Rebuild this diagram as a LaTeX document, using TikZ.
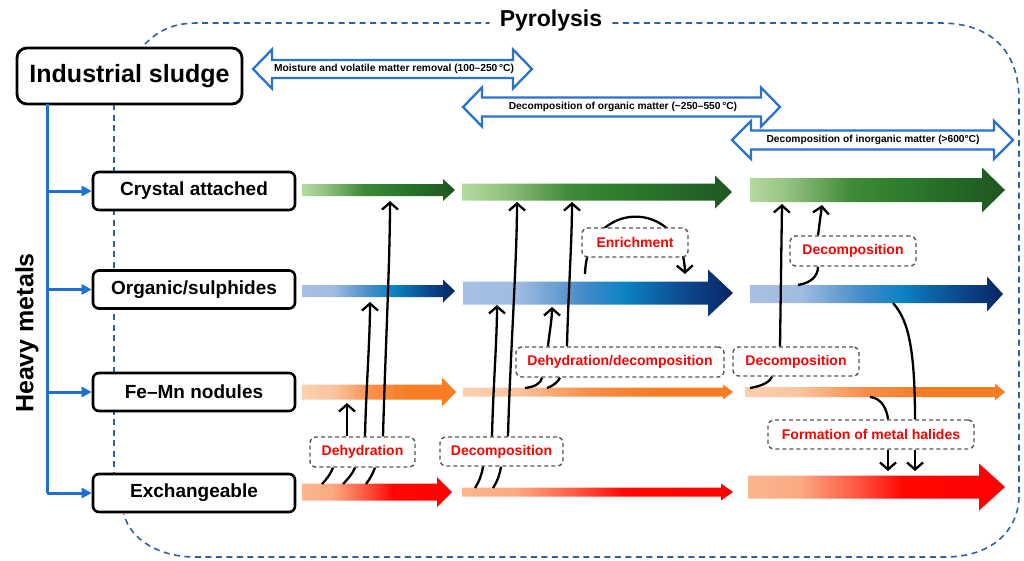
\documentclass[tikz,border=0pt]{standalone}
\usepackage{fontspec}
\setmainfont{Liberation Sans}
\usetikzlibrary{arrows.meta,calc}

\definecolor{pyroblue}{RGB}{48,96,164}
\definecolor{hmblue}{RGB}{30,112,210}
\definecolor{arrblue}{RGB}{40,115,205}
\definecolor{lblgray}{RGB}{85,85,85}
\definecolor{lblred}{RGB}{255,0,0}

\definecolor{gA}{RGB}{180,218,160}
\definecolor{gB}{RGB}{150,196,130}
\definecolor{gC}{RGB}{62,138,56}
\definecolor{gD}{RGB}{42,120,42}
\definecolor{gE}{RGB}{30,86,32}

\definecolor{bA}{RGB}{168,192,228}
\definecolor{bB}{RGB}{160,188,226}
\definecolor{bC}{RGB}{70,140,200}
\definecolor{bD}{RGB}{12,130,195}
\definecolor{bE}{RGB}{12,78,146}
\definecolor{bF}{RGB}{8,36,100}

\definecolor{oA}{RGB}{252,208,176}
\definecolor{oB}{RGB}{251,196,160}
\definecolor{oC}{RGB}{249,142,72}
\definecolor{oD}{RGB}{247,124,36}

\definecolor{rA}{RGB}{251,182,142}
\definecolor{rB}{RGB}{251,170,130}
\definecolor{rC}{RGB}{255,80,60}
\definecolor{rD}{RGB}{255,8,4}
\definecolor{rE}{RGB}{255,0,0}

\pgfdeclarehorizontalshading{gsh}{100bp}{color(0bp)=(gA); color(25bp)=(gA); color(32bp)=(gB); color(45bp)=(gC); color(57bp)=(gD); color(75bp)=(gE); color(100bp)=(gE)}
\pgfdeclarehorizontalshading{bsh}{100bp}{color(0bp)=(bA); color(25bp)=(bA); color(35bp)=(bB); color(47bp)=(bC); color(55bp)=(bD); color(65bp)=(bE); color(75bp)=(bF); color(100bp)=(bF)}
\pgfdeclarehorizontalshading{osh}{100bp}{color(0bp)=(oA); color(25bp)=(oA); color(35bp)=(oB); color(48bp)=(oC); color(60bp)=(oD); color(75bp)=(oD); color(100bp)=(oD)}
\pgfdeclarehorizontalshading{rsh}{100bp}{color(0bp)=(rA); color(25bp)=(rA); color(35bp)=(rB); color(47bp)=(rC); color(55bp)=(rD); color(75bp)=(rE); color(100bp)=(rE)}

% gradient arrow: x1, x2, yc, shaft half height, head half height, head length, shading
\newcommand\gradarrow[7]{%
  \shade[shading=#7] (#1,#3-#4) -- (#2-#6,#3-#4) -- (#2-#6,#3-#5) -- (#2,#3)
    -- (#2-#6,#3+#5) -- (#2-#6,#3+#4) -- (#1,#3+#4) -- cycle;}
% hollow double arrow: x1, x2, yc, shaft half, head half
\newcommand\dblarrow[5]{%
  \draw[harrow] (#1,#3) -- (#1+19,#3-#5) -- (#1+19,#3-#4) -- (#2-19,#3-#4)
    -- (#2-19,#3-#5) -- (#2,#3) -- (#2-19,#3+#5) -- (#2-19,#3+#4)
    -- (#1+19,#3+#4) -- (#1+19,#3+#5) -- cycle;}

\begin{document}
\begin{tikzpicture}[x=1pt,y=-1pt,
  catbox/.style={draw=black, line width=2.6pt, rounded corners=6pt, fill=white,
    minimum width=202pt, minimum height=38pt, inner sep=0pt,
    font=\fontsize{19}{22}\selectfont\bfseries},
  lbl/.style={draw=lblgray, dash pattern=on 4pt off 3pt, line width=1.4pt,
    rounded corners=6pt, fill=white, text=lblred, inner sep=0pt,
    font=\fontsize{14}{16}\selectfont\bfseries},
  harrow/.style={draw=arrblue, line width=2.3pt, fill=white, line join=miter},
  toplbl/.style={font=\fontsize{10.2}{12}\selectfont\bfseries, inner sep=0pt},
  pyro/.style={draw=pyroblue, line width=1.6pt, dash pattern=on 6pt off 4.5pt},
  bl/.style={draw=hmblue, line width=3pt},
  blarr/.style={bl, -{Triangle[length=10pt,width=10pt]}},
  plainln/.style={line width=2.3pt, black},
  conn/.style={line width=2.3pt, black, -{Straight Barb[length=7pt,width=16pt]}}
]
\useasboundingbox (0,0) rectangle (1024,560);
\fill[white] (0,0) rectangle (1024,560);

% ---------- Pyrolysis outline ----------
\node[font=\fontsize{23}{27}\selectfont\bfseries, inner sep=0pt] (pyr) at (551,21) {Pyrolysis};
\draw[pyro] (145,44) .. controls (160,29) and (175,23) .. (198,23) -- ([xshift=-10pt]pyr.west |- 0,23);
\draw[pyro] ([xshift=10pt]pyr.east |- 0,23) -- (940,23)
  .. controls (990,23) and (1019,50) .. (1019,100) -- (1019,495)
  .. controls (1019,532) and (990,557) .. (945,557) -- (195,557)
  .. controls (160,557) and (130,540) .. (124,514);
\draw[pyro] (114,104) -- (114,474);

% ---------- hollow double arrows ----------
\dblarrow{253}{532}{69}{9}{19.5}
\dblarrow{463}{780}{107}{9.5}{19.5}
\dblarrow{732}{1013}{140}{9.5}{19}
\node[toplbl] (t1) at (394,69) {Moisture and volatile matter removal (100–250\,°C)};
\node[toplbl] (t2) at (623,107) {Decomposition of organic matter (\textasciitilde250–550\,°C)};
\node[toplbl] (t3) at (873,140) {Decomposition of inorganic matter (>600°C)};

% ---------- left side ----------
\node[draw=black, line width=2.8pt, rounded corners=10pt, fill=white,
  minimum width=225pt, minimum height=56pt, inner sep=0pt,
  font=\fontsize{25}{30}\selectfont\bfseries] (sludge) at (129.5,76) {Industrial sludge};
\node[rotate=90, inner sep=0pt, font=\fontsize{25}{30}\selectfont\bfseries] (hm) at (27,333) {Heavy metals};

\node[catbox] (crys) at (194,191) {Crystal attached};
\node[catbox] (org)  at (194,289.5) {Organic/sulphides};
\node[catbox] (femn) at (194,392) {Fe–Mn nodules};
\node[catbox] (exch) at (194,493) {Exchangeable};

\coordinate (trunk) at (47,104);
\draw[bl] (trunk) -- (trunk |- exch.west);
\draw[blarr] (trunk |- crys.west) -- (crys.west);
\draw[blarr] (trunk |- org.west) -- (org.west);
\draw[blarr] (trunk |- femn.west) -- (femn.west);
\draw[blarr] (trunk |- exch.west) -- (exch.west);

% ---------- gradient arrows ----------
% column 1
\gradarrow{302}{455}{190}{6}{11}{12}{gsh}
\gradarrow{302}{455}{291}{6}{11.5}{12}{bsh}
\gradarrow{302}{456}{392}{7.5}{14.5}{14}{osh}
\gradarrow{302}{452}{492}{8.5}{15}{15}{rsh}
% column 2
\gradarrow{462}{732}{192}{8.5}{16.5}{17}{gsh}
\gradarrow{463}{733}{293}{11.5}{23.5}{25}{bsh}
\gradarrow{463}{733}{392}{4.5}{7.5}{10}{osh}
\gradarrow{462}{733}{492}{4.5}{8.5}{12}{rsh}
% column 3
\gradarrow{750}{1005}{190}{12}{22.5}{23}{gsh}
\gradarrow{750}{1003}{294}{9}{17.5}{16}{bsh}
\gradarrow{745}{1005}{392}{5}{8.5}{10}{osh}
\gradarrow{748}{1005}{487}{11.5}{23.5}{26}{rsh}

% ---------- enrichment loop (behind its box) ----------
\coordinate (enrS) at (585,274);
\coordinate (enrE) at (685,274);
\draw[conn] (enrS) .. controls (587,198) and (683,198) .. (enrE);

% ---------- label boxes ----------
\node[lbl, minimum width=105pt, minimum height=30pt] (dehy) at (362.5,452) {Dehydration};
\node[lbl, minimum width=123pt, minimum height=29pt] (decA) at (501.5,451.5) {Decomposition};
\node[lbl, minimum width=208pt, minimum height=30pt] (dd) at (620,362) {Dehydration/decomposition};
\node[lbl, minimum width=106pt, minimum height=29pt] (enr) at (635,242.5) {Enrichment};
\node[lbl, minimum width=126pt, minimum height=30pt] (decB) at (853,251) {Decomposition};
\node[lbl, minimum width=126pt, minimum height=29pt] (decC) at (796,361.5) {Decomposition};
\node[lbl, minimum width=206pt, minimum height=29pt] (fmh) at (871,434.5) {Formation of metal halides};

% ---------- column 1 connectors ----------
\coordinate (r1a) at (322,484); \coordinate (r1b) at (343,484); \coordinate (r1c) at (366,484);
\coordinate (o1) at (347,403); \coordinate (b1) at (370,302); \coordinate (g1) at (390,201);
\draw[plainln] (r1a) .. controls (327,479) and (331,473) .. ([xshift=-29.5pt]dehy.south);
\draw[plainln] (r1b) .. controls (348,479) and (353,473) .. ([xshift=-7.5pt]dehy.south);
\draw[plainln] (r1c) .. controls (370,479) and (373,473) .. ([xshift=12.5pt]dehy.south);
\draw[conn] ([xshift=-15.5pt]dehy.north) -- (o1);
\draw[conn] ([xshift=2.5pt]dehy.north) .. controls (366,390) and (370,340) .. (b1);
\draw[conn] ([xshift=20.5pt]dehy.north) .. controls (385,360) and (390,260) .. (g1);

% ---------- column 2 connectors ----------
\coordinate (r2a) at (475,488); \coordinate (r2b) at (493,488);
\coordinate (b2) at (497,305); \coordinate (g2) at (517,202);
\draw[plainln] (r2a) .. controls (479,482) and (482,474) .. ([xshift=-18.5pt]decA.south);
\draw[plainln] (r2b) .. controls (497,482) and (500,474) .. ([xshift=-0.5pt]decA.south);
\draw[conn] ([xshift=-9.5pt]decA.north) .. controls (493,390) and (497,340) .. (b2);
\draw[conn] ([xshift=6.5pt]decA.north) .. controls (510,360) and (517,260) .. (g2);

\coordinate (o2a) at (525,388); \coordinate (o2b) at (547,388);
\coordinate (b2d) at (552,307); \coordinate (g2d) at (572,202);
\draw[plainln] (o2a) .. controls (535,387) and (541,383) .. ([xshift=-78pt]dd.south);
\draw[plainln] (o2b) .. controls (553,386) and (558,382) .. ([xshift=-60pt]dd.south);
\draw[conn] ([xshift=-72pt]dd.north) .. controls (549,335) and (552,320) .. (b2d);
\draw[conn] ([xshift=-53pt]dd.north) .. controls (568,300) and (572,240) .. (g2d);

% ---------- column 3 connectors ----------
\coordinate (b3) at (798,285); \coordinate (g3a) at (822,205);
\draw[plainln] (b3) .. controls (811,283) and (818,276) .. ([xshift=-35pt]decB.south);
\draw[conn] ([xshift=-35pt]decB.north) -- (g3a);

\coordinate (o3) at (750,388); \coordinate (g3b) at (782,204);
\draw[plainln] (o3) .. controls (762,386) and (770,382) .. ([xshift=-24pt]decC.south);
\draw[conn] ([xshift=-16pt]decC.north) -- (g3b);

\coordinate (o3b) at (870,397); \coordinate (b3b) at (893,303);
\coordinate (r3a) at (888,471); \coordinate (r3b) at (915,471);
\draw[plainln] (o3b) .. controls (882,398) and (887,410) .. ([xshift=17pt]fmh.north);
\draw[plainln] (b3b) .. controls (906,318) and (915,340) .. ([xshift=44pt]fmh.north);
\draw[conn] ([xshift=17pt]fmh.south) -- (r3a);
\draw[conn] ([xshift=44pt]fmh.south) -- (r3b);

\end{tikzpicture}
\end{document}
